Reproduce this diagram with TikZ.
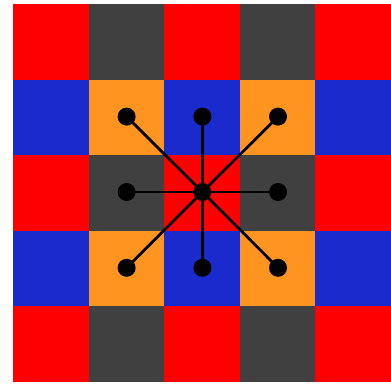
\documentclass[tikz,border=0pt]{standalone}
\definecolor{cred}{HTML}{FF0000}
\definecolor{cgray}{HTML}{404040}
\definecolor{cblue}{HTML}{1A2ACC}
\definecolor{corange}{HTML}{FF9520}
\begin{document}
\begin{tikzpicture}[x=1pt,y=-1pt,
  dotnode/.style={circle,fill=black,inner sep=0pt,minimum size=18pt},
  hubnode/.style={circle,fill=black,inner sep=0pt,minimum size=18pt},
  spoke/.style={line width=2.8pt,black}]
\useasboundingbox (0,0) rectangle (391,383);
\def\cs{75.6}
\foreach \i in {0,...,4}{
  \foreach \j in {0,...,4}{
    \pgfmathtruncatemacro{\a}{mod(\i,2)}
    \pgfmathtruncatemacro{\b}{mod(\j,2)}
    \ifnum\a=0
      \ifnum\b=0 \def\col{cred}\else\def\col{cgray}\fi
    \else
      \ifnum\b=0 \def\col{cblue}\else\def\col{corange}\fi
    \fi
    \ifnum\i=2 \ifnum\j=2 \def\col{cred}\fi\fi
    \fill[\col] ({13+\j*\cs},{4+\i*\cs}) rectangle ({13+(\j+1)*\cs},{4+(\i+1)*\cs});
  }
}
\node[hubnode] (c) at (202.4,192) {};
\node[dotnode] (n1) at (126.6,116.6) {};
\node[dotnode] (n2) at (202.4,116.6) {};
\node[dotnode] (n3) at (278,116.6) {};
\node[dotnode] (n4) at (126.6,192) {};
\node[dotnode] (n5) at (278,192) {};
\node[dotnode] (n6) at (126.6,267.8) {};
\node[dotnode] (n7) at (202.4,267.8) {};
\node[dotnode] (n8) at (278,267.8) {};
\foreach \n in {n1,n2,n3,n4,n5,n6,n7,n8}{
  \draw[spoke] (c.center) -- (\n.center);
}
\end{tikzpicture}
\end{document}
